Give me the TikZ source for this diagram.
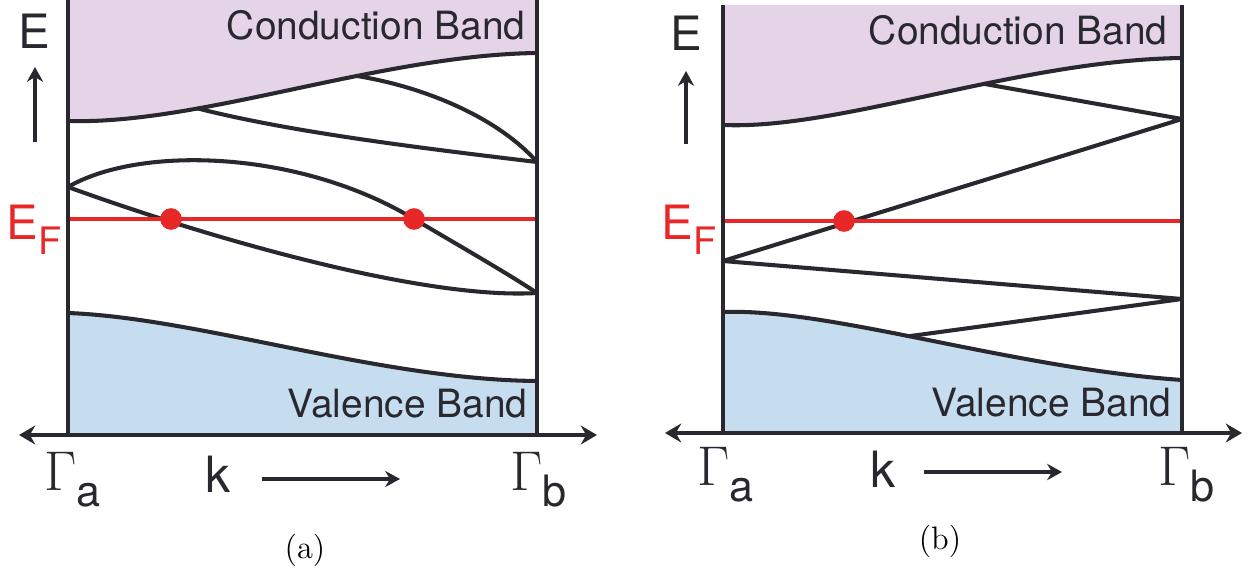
\documentclass[tikz,border=0pt]{standalone}
\usepackage{fontspec}
\setsansfont{TeX Gyre Heros}
\usetikzlibrary{arrows.meta}
\definecolor{bandline}{RGB}{40,40,46}
\definecolor{cbfill}{RGB}{229,212,232}
\definecolor{vbfill}{RGB}{198,221,240}
\definecolor{fermired}{RGB}{232,40,40}
\tikzset{
  % band curves and the lines that join them
  band/.style={draw=bandline,line width=1.5pt,line join=round},
  wall/.style={draw=bandline,line width=1.7pt},
  fermi/.style={draw=fermired,line width=1.4pt},
  crossing/.style={fill=fermired},
  % k axis with a tip at each end
  kaxis/.style={draw=bandline,line width=1.6pt,
    {Stealth[length=6pt,width=7pt,inset=2pt]}-{Stealth[length=6pt,width=7pt,inset=2pt]}},
  dirarrow/.style={draw=bandline,line width=1.5pt,
    -{Stealth[length=5.5pt,width=6pt,inset=1.8pt]}},
  bandtext/.style={font=\sffamily\fontsize{14.4}{16}\selectfont,text=bandline,inner sep=0pt},
  bigtext/.style={font=\sffamily\fontsize{17.5}{20}\selectfont,text=bandline,inner sep=0pt},
  gammatext/.style={text=bandline,inner sep=0pt},
  captext/.style={font=\fontsize{12}{14}\selectfont,inner sep=0pt},
}
\newcommand{\gampt}[1]{{\fontsize{21}{24}\selectfont$\Gamma$}\raisebox{-6pt}{\sffamily\fontsize{16}{18}\selectfont #1}}
\newcommand{\fermilbl}{\textcolor{fermired}{E\raisebox{-5.5pt}{\fontsize{14}{16}\selectfont F}}}

\begin{document}
\begin{tikzpicture}[x=0.37pt,y=-0.37pt]
    \useasboundingbox (0,0) rectangle (1249,569);
    %%% panel (a)
    \fill[cbfill] (68,0) -- (68,121) .. controls (200,125) and (380,55) .. (537,53) -- (537,0) -- cycle;
    \fill[vbfill] (68,313) .. controls (200,318) and (380,380) .. (538,381) -- (538,435) -- (68,435) -- cycle;
    \draw[band] (68,121) .. controls (200,125) and (380,55) .. (537,53)
        coordinate[pos=0.3] (cbja) coordinate[pos=0.63] (cbjb);
    \draw[band] (68,313) .. controls (200,318) and (380,380) .. (538,381);
    \coordinate (ra1) at (537,162);
    \coordinate (ra2) at (537,293);
    \coordinate (la1) at (68,187);
    \coordinate (dota1) at (171,219);
    \coordinate (dota2) at (414,219);
    % in-gap bands
    \draw[band] (cbja) .. controls (290,132) and (420,148) .. (ra1);
    \draw[band] (cbjb) .. controls (430,88) and (500,120) .. (ra1);
    \draw[band] (la1) .. controls (140,145) and (300,150) .. (dota2) .. controls (470,252) and (510,275) .. (ra2);
    \draw[band] (la1) .. controls (200,235) and (420,300) .. (ra2);
    \draw[fermi] (68,219) -- (537,219);
    \fill[crossing] (dota1) circle (4pt);
    \fill[crossing] (dota2) circle (4pt);
    \draw[wall] (68,0) -- (68,435);
    \draw[wall] (537,0) -- (537,435);
    \coordinate (axa-l) at (19,435);
    \coordinate (axa-r) at (597,435);
    \draw[kaxis] (axa-l) -- (axa-r);
    % labels
    \node[bandtext,anchor=base east] (cbtxta) at (526,40) {Conduction Band};
    \node[bandtext,anchor=base east] (vbtxta) at (528,418) {Valence Band};
    \node[bigtext,anchor=base west] (ea) at (18,49) {E};
    \coordinate (eara) at (35,142);
    \coordinate (earb) at (35,67);
    \draw[dirarrow] (eara) -- (earb);
    \node[bigtext,anchor=base west] (efa) at (6,240) {\fermilbl};
    \node[gammatext,anchor=base west] (gaa) at (44,490) {\gampt{a}};
    \node[gammatext,anchor=base west] (gab) at (510,490) {\gampt{b}};
    \node[bigtext,font=\sffamily\fontsize{18.5}{20}\selectfont,anchor=base west] (ka) at (205,493) {k};
    \coordinate (kara) at (262,479);
    \coordinate (karb) at (400,479);
    \draw[dirarrow] (kara) -- (karb);
    \node[captext] (capa) at (305,550) {(a)};

    %%% panel (b)
    \fill[cbfill] (723,5) -- (723,125) .. controls (840,130) and (1020,60) .. (1182,58) -- (1182,5) -- cycle;
    \fill[vbfill] (723,312) .. controls (830,308) and (1010,368) .. (1182,380) -- (1182,433) -- (723,433) -- cycle;
    \draw[band] (723,125) .. controls (840,130) and (1020,60) .. (1182,58)
        coordinate[pos=0.6] (cbjc);
    \draw[band] (723,312) .. controls (830,308) and (1010,368) .. (1182,380)
        coordinate[pos=0.46] (vbjc);
    \coordinate (rb1) at (1182,119);
    \coordinate (rb2) at (1182,299);
    \coordinate (lb1) at (723,261);
    \coordinate (dotb1) at (844,221);
    % in-gap bands
    \draw[band] (cbjc) -- (rb1) -- (lb1) -- (rb2) -- (vbjc);
    \draw[fermi] (723,221) -- (1182,221);
    \fill[crossing] (dotb1) circle (4pt);
    \draw[wall] (723,5) -- (723,433);
    \draw[wall] (1182,5) -- (1182,433);
    \coordinate (axb-l) at (665,433);
    \coordinate (axb-r) at (1242,433);
    \draw[kaxis] (axb-l) -- (axb-r);
    % labels
    \node[bandtext,anchor=base east] (cbtxtb) at (1168,45) {Conduction Band};
    \node[bandtext,anchor=base east] (vbtxtb) at (1172,416) {Valence Band};
    \node[bigtext,anchor=base west] (eb) at (670,51) {E};
    \coordinate (ebra) at (686,144);
    \coordinate (ebrb) at (686,71);
    \draw[dirarrow] (ebra) -- (ebrb);
    \node[bigtext,anchor=base west] (efb) at (661,240) {\fermilbl};
    \node[gammatext,anchor=base west] (gba) at (697,485) {\gampt{a}};
    \node[gammatext,anchor=base west] (gbb) at (1158,485) {\gampt{b}};
    \node[bigtext,font=\sffamily\fontsize{18.5}{20}\selectfont,anchor=base west] (kb) at (870,488) {k};
    \coordinate (kbra) at (924,472);
    \coordinate (kbrb) at (1062,472);
    \draw[dirarrow] (kbra) -- (kbrb);
    \node[captext] (capb) at (940,541) {(b)};
\end{tikzpicture}
\end{document}
